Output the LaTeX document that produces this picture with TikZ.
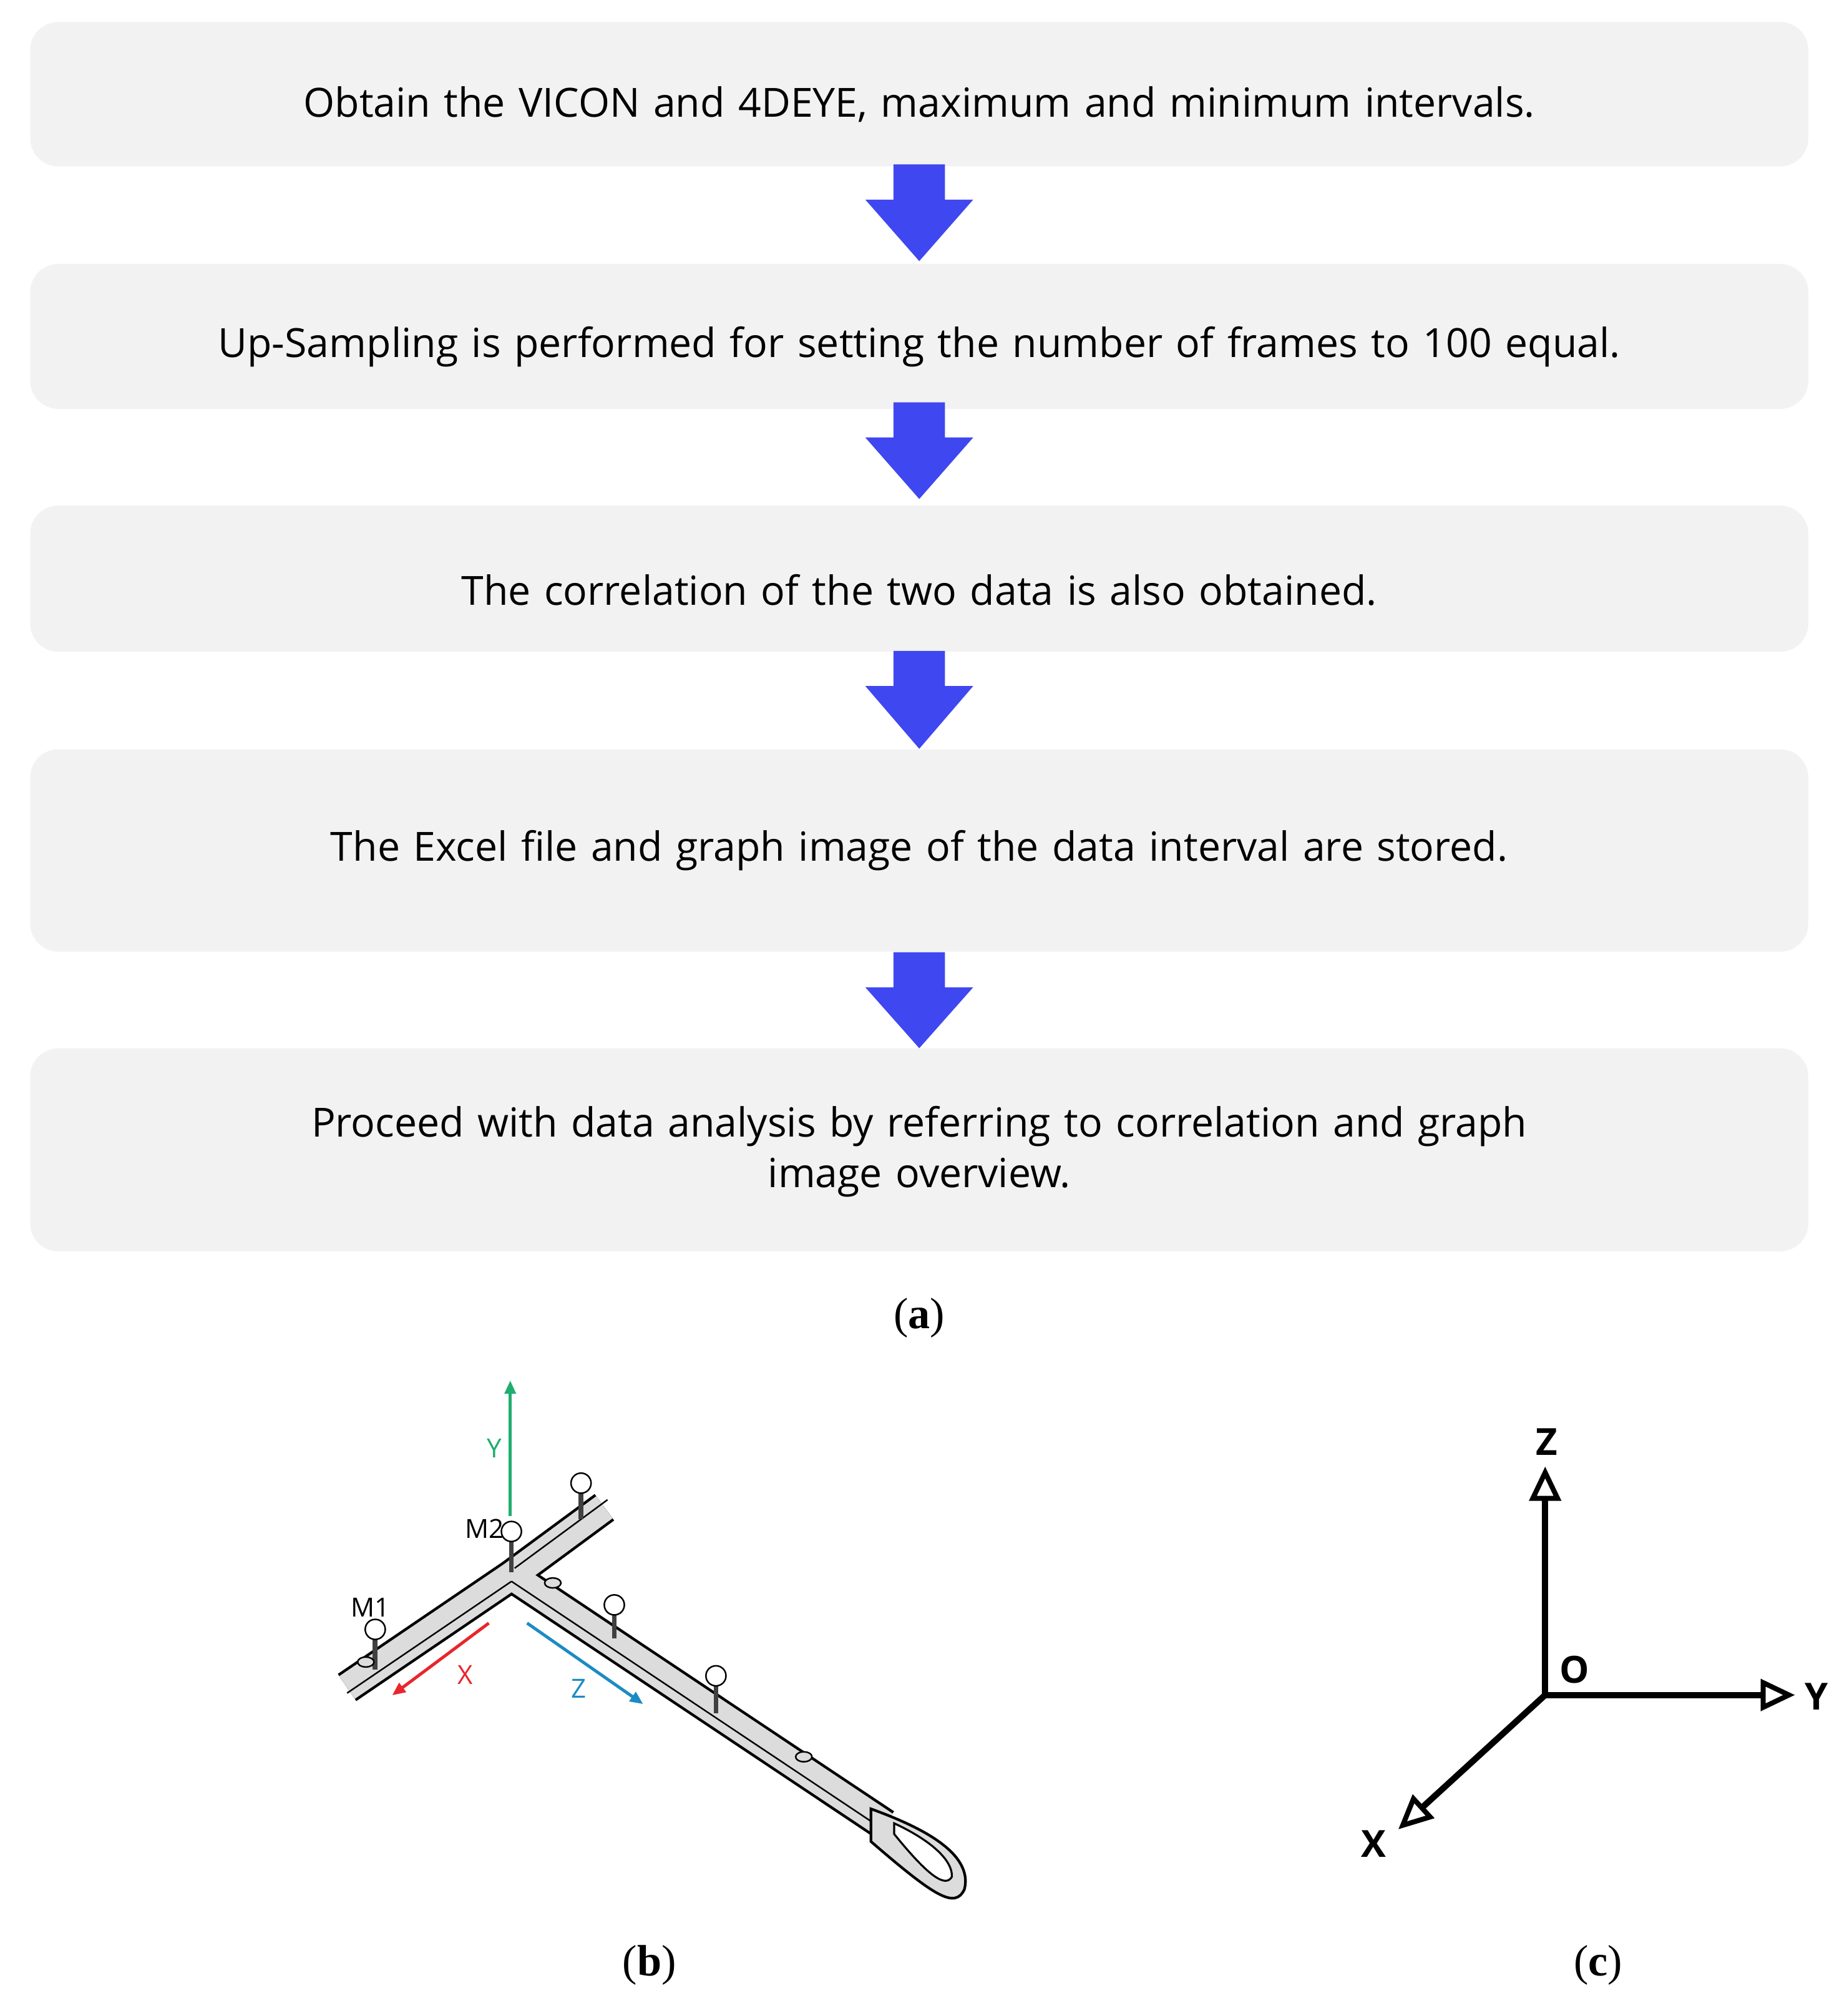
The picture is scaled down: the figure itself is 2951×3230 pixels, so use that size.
\documentclass[tikz,border=0pt]{standalone}
\usepackage{fontspec}
\setmainfont{Open Sans}
\newfontfamily\capfont{Liberation Serif}
\usetikzlibrary{arrows.meta,calc}
\definecolor{boxgray}{HTML}{F2F2F2}
\definecolor{flowblue}{HTML}{3F47F0}
\definecolor{ygreen}{HTML}{1FAE6E}
\definecolor{xred}{HTML}{E8262B}
\definecolor{zblue}{HTML}{1C8BC4}
\definecolor{wandgray}{HTML}{DCDCDC}
\tikzset{
  stepbox/.style={fill=boxgray, draw=none, rounded corners=0.45cm, minimum width=28.48cm},
  steptext/.style={align=center, font=\fontsize{18.3}{23}\selectfont, text width=27cm},
  flowarrow/.style={fill=flowblue, draw=none},
  caplabel/.style={font=\capfont\fontsize{20}{22}\selectfont},
  axlabel/.style={font=\bfseries\fontsize{17}{20}\selectfont},
  axline/.style={line width=0.1cm, -{Triangle[open, length=0.55cm, width=0.5cm, line width=0.08cm]}},
  bar/.style={line width=15pt, line cap=butt},
  barfill/.style={line width=12.5pt, draw=wandgray, line cap=butt},
  wandlabel/.style={font=\fontsize{12}{14}\selectfont},
}
\begin{document}
\begin{tikzpicture}[x=0.01cm,y=-0.01cm]
\useasboundingbox (0,0) rectangle (2951,3230);
\begin{scope}[scale=1.0056]
% boxes
\node[stepbox, minimum height=2.31cm] (s1) at (1465,150) {};
\node[stepbox, minimum height=2.32cm] (s2) at (1465,536) {};
\node[stepbox, minimum height=2.34cm] (s3) at (1465,922) {};
\node[stepbox, minimum height=3.24cm] (s4) at (1465,1355) {};
\node[stepbox, minimum height=3.25cm] (s5) at (1465,1832) {};
\node[steptext] (t1) at (1465,166) {Obtain the VICON and 4DEYE, maximum and minimum intervals.};
\node[steptext] (t2) at (1465,553) {Up-Sampling is performed for setting the number of frames to 100 equal.};
\node[steptext] (t3) at (1465,940) {The correlation of the two data is also obtained.};
\node[steptext] (t4) at (1465,1355) {The Excel file and graph image of the data interval are stored.};
\node[steptext] (t5) at (1465,1835) {Proceed with data analysis by referring to correlation and graph\\ image overview.};
% block arrows
\foreach \t/\b in {262/416, 641/795, 1037/1193, 1517/1670}{
  \fill[flowarrow] (1424,\t) -- (1506,\t) -- (1506,\t+56) -- (1551,\t+56) -- (1465,\b) -- (1379,\t+56) -- (1424,\t+56) -- cycle;
}
\node[caplabel] (ca) at (1465,2100) {(\textbf{a})};
\node[caplabel] (cb) at (1035,3131) {(\textbf{b})};
\node[caplabel] (cc) at (2547,3131) {(\textbf{c})};
% (c) axes
\coordinate (O) at (2462,2700);
\coordinate (Zt) at (2462,2336);
\coordinate (Yt) at (2860,2700);
\coordinate (Xt) at (2228,2914);
\draw[axline] (O) -- (Zt);
\draw[axline] (O) -- (Yt);
\draw[axline] (O) -- (Xt);
\node[axlabel] (lz) at (2465,2297) {Z};
\node[axlabel] (ly) at (2895,2703) {Y};
\node[axlabel] (lx) at (2189,2938) {X};
\node[axlabel] (lo) at (2509,2660) {O};
% (b) wand
\coordinate (J) at (815,2510);
\coordinate (A) at (553,2688);
\coordinate (U) at (963,2401);
\coordinate (H) at (1410,2907);
\foreach \e in {A,U,H}{\draw[bar] (J) -- (\e);}
\foreach \e in {A,U,H}{\draw[barfill] (J) -- (\e);}
\draw[line width=0.7pt] ($(J)+(0,9)$) -- ($(A)+(0,9)$);
\draw[line width=0.7pt] ($(J)+(0,9)$) -- ($(H)+(0,9)$);
\draw[line width=0.7pt] ($(J)+(5,-12)$) -- ($(U)+(5,-12)$);
% handle
\draw[line width=1.2pt, fill=wandgray] (1388,2882) .. controls (1460,2908) and (1552,2950) .. (1537,3010) .. controls (1522,3042) and (1490,3022) .. (1388,2934) -- cycle;
\draw[line width=0.9pt, fill=white] (1425,2905) .. controls (1475,2928) and (1518,2960) .. (1517,2990) .. controls (1507,3008) and (1480,2990) .. (1425,2922) -- cycle;
% markers
\foreach \bx/\by/\sy in {815/2440/2505, 598/2596/2660, 926/2363/2420, 979/2557/2610, 1141/2670/2730}{
  \draw[line width=2.2pt, draw=black!75] (\bx,\by) -- (\bx,\sy);
  \draw[line width=0.7pt, fill=white] (\bx,\by) circle (16);
}
\foreach \kx/\ky in {881/2522, 1281/2799, 583/2648}{
  \draw[line width=0.7pt, fill=wandgray] (\kx,\ky) ellipse (13 and 8);
}
% axes on wand
\coordinate (Ys) at (813,2415);
\coordinate (Ye) at (813,2199);
\draw[ygreen, line width=1.4pt, -{Triangle[length=6pt,width=5pt]}] (Ys) -- (Ye);
\draw[xred, line width=1.4pt, -{Triangle[length=6pt,width=5pt]}] (779,2586) -- (625,2701);
\draw[zblue, line width=1.4pt, -{Triangle[length=6pt,width=5pt]}] (840,2586) -- (1025,2715);
\node[wandlabel, text=ygreen] (yl) at (788,2307) {Y};
\node[wandlabel, text=xred] (xl) at (742,2668) {X};
\node[wandlabel, text=zblue] (zl) at (922,2690) {Z};
\node[wandlabel] (m2) at (772,2436) {M2};
\node[wandlabel] (m1) at (590,2561) {M1};
\end{scope}
\end{tikzpicture}
\end{document}
